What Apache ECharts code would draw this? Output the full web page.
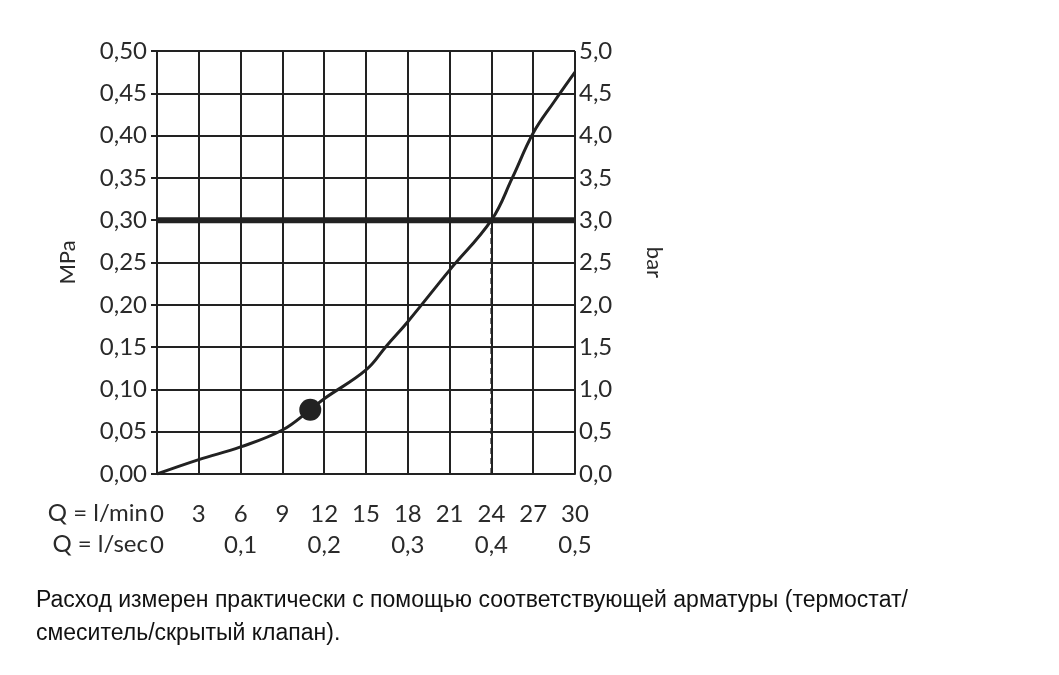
<!DOCTYPE html><html><head><meta charset="utf-8"><script src="https://cdn.jsdelivr.net/npm/echarts@6/dist/echarts.min.js"></script></head><body style="margin:0;background:#fff"><div id="c" style="width:1059px;height:675px"></div><script>
const flowLmin=[0,3,6,9,11,12,15,16.5,18,21,24,25.5,27,28.5,30];
const pressureMPa=[0,0.017,0.032,0.052,0.076,0.089,0.123,0.152,0.18,0.241,0.30,0.35,0.403,0.44,0.475];
const markerPoint=[11,0.076];
const limitMPa=0.30, limitFlow=24;
const caption1='Расход измерен практически с помощью соответствующей арматуры (термостат/';
const caption2='смеситель/скрытый клапан).';
const F='Lato';
const fmt=(d)=>v=>v.toFixed(d).replace('.',',');
const ch=echarts.init(document.getElementById('c'));
const lab={fontFamily:F,fontSize:24,color:'#2a2a2a'};
ch.setOption({animation:false,
grid:{left:157,right:484,top:51,bottom:201},
xAxis:[{type:'value',min:0,max:30,interval:3,axisLine:{lineStyle:{color:'#222',width:2}},axisTick:{show:false},splitLine:{lineStyle:{color:'#222',width:2}},axisLabel:{...lab,margin:28}},
{type:'value',position:'bottom',offset:31,min:0,max:0.5,interval:0.1,axisLine:{show:false},axisTick:{show:false},splitLine:{show:false},axisLabel:{...lab,margin:28,formatter:v=>v===0?'0':fmt(1)(v)}}],
yAxis:[{type:'value',min:0,max:0.5,interval:0.05,name:'MPa',nameLocation:'middle',nameRotate:90,nameGap:78,nameTextStyle:{fontFamily:F,fontSize:22,color:'#2a2a2a'},axisLine:{lineStyle:{color:'#222',width:2}},axisTick:{show:true,length:6,lineStyle:{color:'#222',width:2}},splitLine:{lineStyle:{color:'#222',width:2}},axisLabel:{...lab,margin:10,formatter:fmt(2)}},
{type:'value',min:0,max:5,interval:0.5,name:'bar',nameLocation:'middle',nameRotate:-90,nameGap:68,nameTextStyle:{fontFamily:F,fontSize:22,color:'#2a2a2a'},axisLine:{lineStyle:{color:'#222',width:2}},axisTick:{show:true,length:6,lineStyle:{color:'#222',width:2}},splitLine:{show:false},axisLabel:{...lab,margin:4,formatter:fmt(1)}}],
series:[
{type:'line',data:[[0,limitMPa],[30,limitMPa]],symbol:'none',lineStyle:{color:'#222',width:6}},
{type:'line',data:[[limitFlow,0],[limitFlow,limitMPa]],symbol:'none',lineStyle:{color:'#222',width:2,type:[6,4]}},
{type:'line',smooth:0.4,data:flowLmin.map((x,i)=>[x,pressureMPa[i]]),symbol:'none',lineStyle:{color:'#222',width:3}},
{type:'scatter',data:[markerPoint],symbolSize:22,itemStyle:{color:'#222',opacity:1},z:10}],
graphic:[
{type:'text',right:1059-148,top:501,style:{text:'Q = l/min',font:'24px Lato',fill:'#2a2a2a',textAlign:'right'}},
{type:'text',right:1059-148,top:532,style:{text:'Q = l/sec',font:'24px Lato',fill:'#2a2a2a',textAlign:'right'}},
{type:'text',left:36,top:589,style:{text:caption1,font:'23px "Liberation Sans"',fill:'#111'}},
{type:'text',left:36,top:622,style:{text:caption2,font:'23px "Liberation Sans"',fill:'#111'}}]
});
</script></body></html>
